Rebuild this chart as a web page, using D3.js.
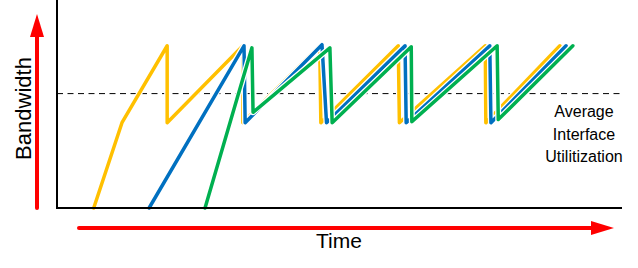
<!DOCTYPE html>
<html lang="en">
	<head>
		<meta charset="utf-8">
		<script src="https://d3js.org/d3.v7.min.js"></script>
		<title>Bandwidth over Time</title>
		<style>
			body { margin:0; background:white; }
			text { font-family:"Liberation Sans", Arial, sans-serif; fill:black; }
			.casing { fill:none; stroke:white; stroke-width:6px; stroke-linejoin:round; stroke-linecap:round; }
			.series { fill:none; stroke-width:3.5px; stroke-linejoin:round; stroke-linecap:round; }
		</style>
	</head>
	<body>
		<script type="text/javascript">

		// time (0-100) , bandwidth (0-100)
		var yellowPoints = [[6.5,0],[11.5,41],[19.5,78],[19.5,41],[32.9,78],[32.9,41],[46.5,78],[46.7,41],
			[60.4,78],[60.6,41],[75.8,78],[75.9,41],[89.0,78]];
		var bluePoints = [[16.3,0],[33.1,78],[33.3,41],[46.9,78.5],[47.7,41],[61.6,78],[61.8,41],
			[76.6,78],[76.8,41],[90.1,78]];
		var greenPoints = [[26.2,0],[34.5,77],[34.7,46],[48.3,77],[48.7,41],[62.7,77.5],[62.8,41.5],
			[77.9,78],[78.1,42.5],[91.3,78]];

		var seriesNames = ["yellow","blue","green"];
		var seriesColors = ["#FFC000","#0070C0","#00B050"];
		var seriesData = [yellowPoints, bluePoints, greenPoints];

		var averageUtil = 55;
		var noteLines = ["Average","Interface","Utilitization"];

		var width = 638,
			height = 268;

		var X = d3.scaleLinear().domain([0,100]).range([57,622]);
		var Y = d3.scaleLinear().domain([0,100]).range([208,0]);
		var line = d3.line().x(function(d){ return X(d[0]); }).y(function(d){ return Y(d[1]); });

		var svg = d3.select("body").append("svg")
			.attr("width", width)
			.attr("height", height);

		// average line
		svg.append("line")
			.attr("x1", X(0)).attr("x2", X(100))
			.attr("y1", Y(averageUtil)).attr("y2", Y(averageUtil))
			.attr("stroke","black").attr("stroke-width",1)
			.attr("stroke-dasharray","6,4.5");

		// series, each with a thin white casing
		seriesData.forEach(function(pts, i){
			svg.append("path").attr("class","casing").attr("d", line(pts));
			svg.append("path").attr("class","series "+seriesNames[i])
				.attr("stroke", seriesColors[i])
				.attr("d", line(pts));
		});

		// axes
		svg.append("path")
			.attr("d","M"+X(0)+","+Y(100)+"V"+Y(0)+"H"+X(100))
			.attr("fill","none").attr("stroke","black").attr("stroke-width",2);

		// red arrows
		var red = "#FF0000";
		svg.append("line").attr("x1",37).attr("x2",37).attr("y1",208).attr("y2",34)
			.attr("stroke",red).attr("stroke-width",4).attr("stroke-linecap","round");
		svg.append("path").attr("d","M37,14L44,37L30,37Z").attr("fill",red);

		svg.append("line").attr("x1",79).attr("x2",594).attr("y1",228).attr("y2",228)
			.attr("stroke",red).attr("stroke-width",4).attr("stroke-linecap","round");
		svg.append("path").attr("d","M614,228L591,221L591,235Z").attr("fill",red);

		// labels
		svg.append("text")
			.attr("transform","translate(31,108.5) rotate(-90)")
			.attr("text-anchor","middle")
			.style("font-size","22px")
			.text("Bandwidth");

		svg.append("text")
			.attr("x",339).attr("y",248)
			.attr("text-anchor","middle")
			.style("font-size","21px")
			.text("Time");

		svg.selectAll(".note").data(noteLines).enter().append("text")
			.attr("class","note")
			.attr("x",584)
			.attr("y",function(d,i){ return 117 + i*22.5; })
			.attr("text-anchor","middle")
			.style("font-size","16px")
			.text(function(d){ return d; });

		</script>
	</body>
</html>
